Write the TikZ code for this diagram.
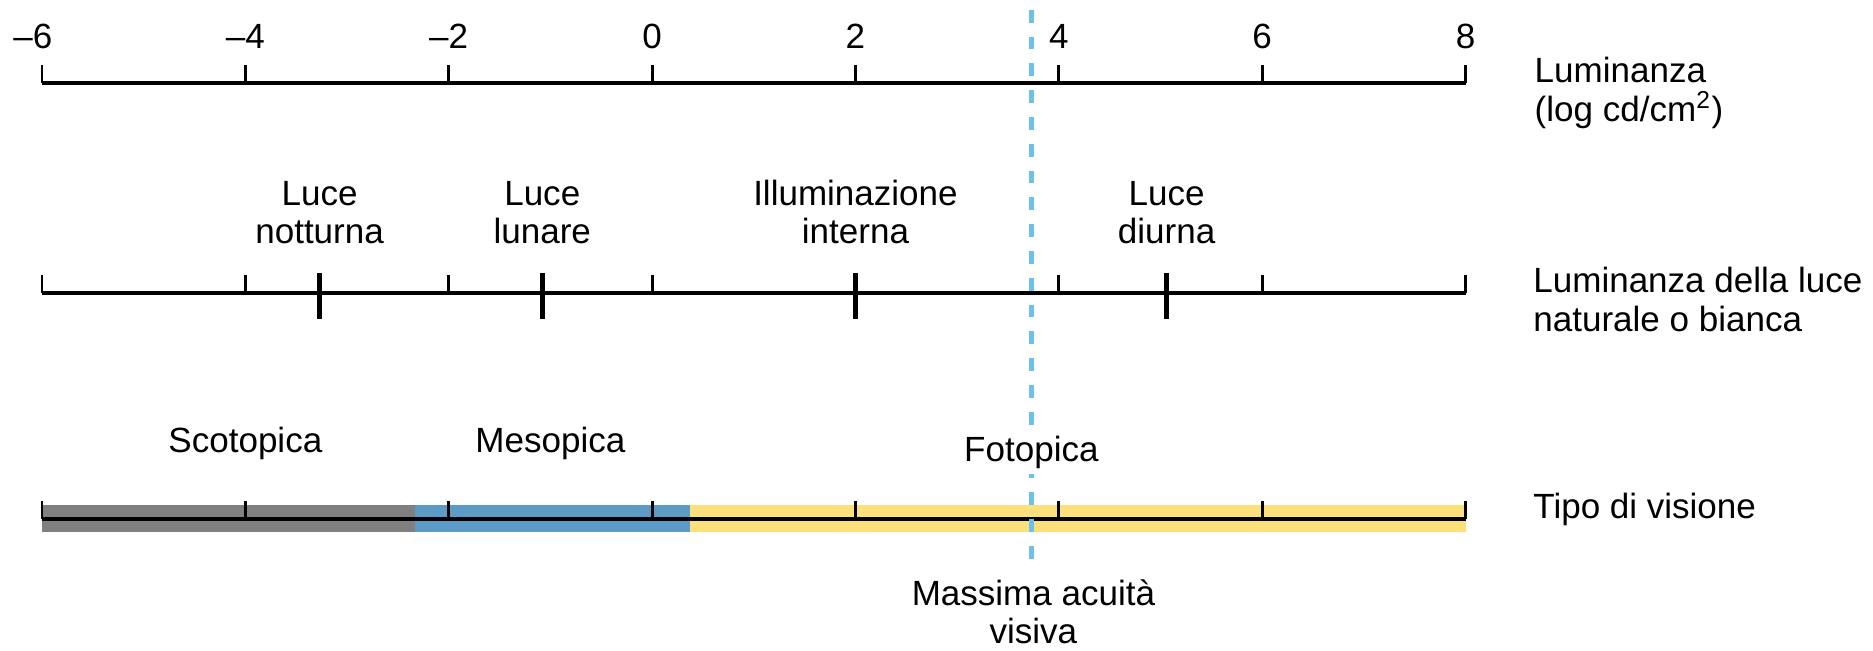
\documentclass[tikz,border=0pt]{standalone}
\usepackage{fontspec}
\setmainfont{Liberation Sans}
\usetikzlibrary{positioning}
\definecolor{scotogrey}{HTML}{808080}
\definecolor{mesoblue}{HTML}{5B9BC5}
\definecolor{fotoyellow}{HTML}{FBE07C}
\definecolor{acuityblue}{HTML}{6DC0EC}

\begin{document}
\begin{tikzpicture}[
  font=\fontsize{9.8}{10.8}\selectfont,
  axisline/.style={line width=1.1pt},
  minortick/.style={line width=0.8pt},
  majortick/.style={line width=1.4pt},
  lbl/.style={align=center, inner sep=0pt},
  axislabel/.style={align=left, inner sep=0pt},
]
\useasboundingbox (-6.413,-5.586) rectangle (12.007,0.816);

% axis ends
\coordinate (lumL) at (-6,0);
\coordinate (lumR) at (8,0);
\coordinate (natL) at (-6,-2.065);
\coordinate (natR) at (8,-2.065);
\coordinate (visL) at (-6,-4.285);
\coordinate (visR) at (8,-4.285);

% luminance scale
\draw[axisline] (lumL) -- (lumR);
\foreach \v/\dx in {-6/-0.09,-4/0,-2/0,0/0,2/0,4/0,6/0,8/0} {
  \draw[minortick] (\v,0) -- (\v,0.177);
  \node[anchor=base, xshift=\dx cm] (num\v) at (\v,0.334)
    {\ifnum\v<0 –\number-\v\else\v\fi};
}
\node[axislabel, right=0.673cm of lumR, anchor=base west, yshift=-10.8pt] (lumlbl)
  {Luminanza\\(log cd/cm\textsuperscript{2})};

% natural light scale
\draw[axisline] (natL) -- (natR);
\foreach \v in {-6,-4,...,8}
  \draw[minortick] (\v,-2.065) -- (\v,-1.888);
\foreach \v/\t/\name in {-3.27/{Luce\\notturna}/night, -1.08/{Luce\\lunare}/moon,
    2/{Illuminazione\\interna}/indoor, 5.06/{Luce\\diurna}/day} {
  \draw[majortick] (\v,-1.865) -- (\v,-2.321);
  \node[lbl, anchor=south] (\name) at (\v,-1.593) {\t};
}
\node[axislabel, right=0.66cm of natR, anchor=base west, yshift=-10.8pt] (natlbl)
  {Luminanza della luce\\naturale o bianca};

% vision type bands
\fill[scotogrey] (-6,-4.416) rectangle (-2.33,-4.150);
\fill[mesoblue] (-2.33,-4.416) rectangle (0.37,-4.150);
\fill[fotoyellow] (0.37,-4.416) rectangle (8,-4.150);
\draw[axisline] (visL) -- (visR);
\foreach \v in {-6,-4,...,8}
  \draw[minortick] (\v,-4.285) -- (\v,-4.111);
\node[anchor=base] (scoto) at (-4,-3.639) {Scotopica};
\node[anchor=base] (meso) at (-1,-3.639) {Mesopica};
\node[axislabel, right=0.66cm of visR, anchor=base west] (vislbl) {Tipo di visione};

% maximum acuity
\coordinate (acuTop) at (3.73,0.72);
\coordinate (acuBot) at (3.73,-4.72);
\draw[acuityblue, line width=1.2pt, dash pattern=on 3.6pt off 3.9pt] (acuTop) -- (acuBot);
\node[anchor=base, fill=white, inner sep=1.5pt] (foto) at (3.73,-3.72) {Fotopica};
\node[lbl, anchor=south] (acuity) at (3.75,-5.527) {Massima acuità\\visiva};
\end{tikzpicture}
\end{document}
